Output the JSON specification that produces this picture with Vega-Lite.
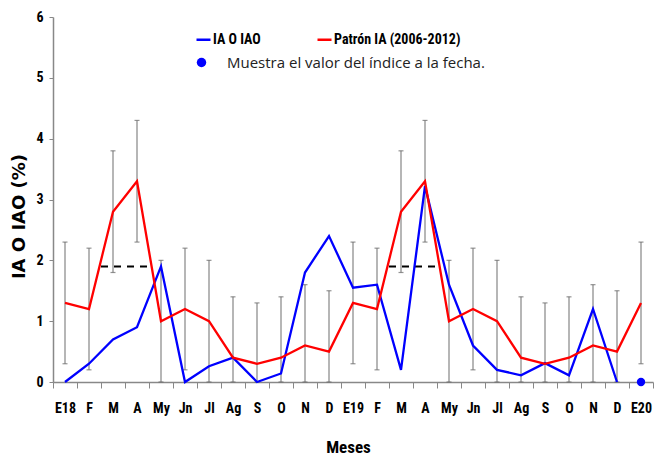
{
  "$schema": "https://vega.github.io/schema/vega-lite/v6.json",
  "autosize": {"type": "none"},
  "padding": {"left": 53, "top": 17, "right": 1, "bottom": 74},
  "width": 600,
  "height": 365,
  "background": "white",
  "config": {"view": {"stroke": null}},
  "data": {"values": [
    {"key": "E18", "ia": 0, "pat": 1.3, "lo": 0.3, "hi": 2.3},
    {"key": "F_1", "ia": 0.3, "pat": 1.2, "lo": 0.2, "hi": 2.2},
    {"key": "M_1", "ia": 0.7, "pat": 2.8, "lo": 1.8, "hi": 3.8},
    {"key": "A_1", "ia": 0.9, "pat": 3.3, "lo": 2.3, "hi": 4.3},
    {"key": "My_1", "ia": 1.9, "pat": 1.0, "lo": 0, "hi": 2.0},
    {"key": "Jn_1", "ia": 0, "pat": 1.2, "lo": 0.2, "hi": 2.2},
    {"key": "Jl_1", "ia": 0.26, "pat": 1.0, "lo": 0, "hi": 2.0},
    {"key": "Ag_1", "ia": 0.4, "pat": 0.4, "lo": 0, "hi": 1.4},
    {"key": "S_1", "ia": 0, "pat": 0.3, "lo": 0, "hi": 1.3},
    {"key": "O_1", "ia": 0.14, "pat": 0.4, "lo": 0, "hi": 1.4},
    {"key": "N_1", "ia": 1.8, "pat": 0.6, "lo": 0, "hi": 1.6},
    {"key": "D_1", "ia": 2.4, "pat": 0.5, "lo": 0, "hi": 1.5},
    {"key": "E19", "ia": 1.55, "pat": 1.3, "lo": 0.3, "hi": 2.3},
    {"key": "F_2", "ia": 1.6, "pat": 1.2, "lo": 0.2, "hi": 2.2},
    {"key": "M_2", "ia": 0.2, "pat": 2.8, "lo": 1.8, "hi": 3.8},
    {"key": "A_2", "ia": 3.22, "pat": 3.3, "lo": 2.3, "hi": 4.3},
    {"key": "My_2", "ia": 1.6, "pat": 1.0, "lo": 0, "hi": 2.0},
    {"key": "Jn_2", "ia": 0.6, "pat": 1.2, "lo": 0.2, "hi": 2.2},
    {"key": "Jl_2", "ia": 0.2, "pat": 1.0, "lo": 0, "hi": 2.0},
    {"key": "Ag_2", "ia": 0.11, "pat": 0.4, "lo": 0, "hi": 1.4},
    {"key": "S_2", "ia": 0.31, "pat": 0.3, "lo": 0, "hi": 1.3},
    {"key": "O_2", "ia": 0.11, "pat": 0.4, "lo": 0, "hi": 1.4},
    {"key": "N_2", "ia": 1.2, "pat": 0.6, "lo": 0, "hi": 1.6},
    {"key": "D_2", "ia": 0, "pat": 0.5, "lo": 0, "hi": 1.5},
    {"key": "E20", "ia": null, "pat": 1.3, "lo": 0.3, "hi": 2.3}
  ]},
  "encoding": {
    "x": {
      "field": "key", "type": "ordinal",
      "scale": {"type": "band", "paddingInner": 0, "paddingOuter": 0,
        "domain": ["E18","F_1","M_1","A_1","My_1","Jn_1","Jl_1","Ag_1","S_1","O_1","N_1","D_1","E19","F_2","M_2","A_2","My_2","Jn_2","Jl_2","Ag_2","S_2","O_2","N_2","D_2","E20"]},
      "axis": {
        "title": "Meses",
        "labelExpr": "datum.value ? split(datum.value, '_')[0] : ''",
        "labelAngle": 0,
        "labelFont": "Liberation Sans Narrow, Roboto Condensed, Roboto",
        "labelFontWeight": "bold",
        "labelFontSize": 14,
        "labelColor": "black",
        "labelPadding": 13,
        "tickBand": "extent",
        "tickSize": 6,
        "tickColor": "#888888",
        "domainColor": "#888888",
        "domainWidth": 1.5,
        "titleFont": "Liberation Sans Narrow, Roboto Condensed, Roboto",
        "titleFontWeight": "bold",
        "titleFontSize": 17,
        "titleColor": "black",
        "titlePadding": 24,
        "titleX": 295
      }
    }
  },
  "layer": [
    {
      "mark": {"type": "rule", "color": "#858585", "strokeWidth": 1.2},
      "encoding": {
        "y": {"field": "lo", "type": "quantitative",
          "scale": {"domain": [0, 6], "nice": false},
          "axis": {
            "title": "IA O IAO (%)",
            "values": [0, 1, 2, 3, 4, 5, 6],
            "format": "d",
            "grid": false,
            "labelFont": "Liberation Sans Narrow, Roboto Condensed, Roboto",
            "labelFontWeight": "bold",
            "labelFontSize": 14,
            "labelColor": "black",
            "labelPadding": 6,
            "tickSize": 4,
            "tickColor": "#888888",
            "domainColor": "#888888",
            "domainWidth": 1.5,
            "titleFont": "DejaVu Sans",
            "titleFontWeight": "bold",
            "titleFontSize": 18,
            "titleColor": "black",
            "titleAngle": 270,
            "titleBaseline": "middle",
            "titleAlign": "center",
            "titleX": -34,
            "titleY": 199
          }
        },
        "y2": {"field": "hi"}
      }
    },
    {
      "mark": {"type": "tick", "color": "#666666", "size": 5, "thickness": 1.2},
      "encoding": {"y": {"field": "hi", "type": "quantitative"}}
    },
    {
      "mark": {"type": "tick", "color": "#666666", "size": 5, "thickness": 1.2},
      "encoding": {"y": {"field": "lo", "type": "quantitative"}}
    },
    {
      "data": {"values": [
        {"d0": "M_1", "d1": "A_1", "v": 1.9},
        {"d0": "M_2", "d1": "A_2", "v": 1.9}
      ]},
      "mark": {"type": "rule", "color": "black", "strokeWidth": 2, "strokeDash": [7, 6]},
      "encoding": {
        "x": {"field": "d0", "type": "ordinal", "bandPosition": 0},
        "x2": {"field": "d1", "bandPosition": 1},
        "y": {"field": "v", "type": "quantitative"}
      }
    },
    {
      "mark": {"type": "line", "strokeWidth": 2.3},
      "encoding": {
        "y": {"field": "ia", "type": "quantitative"},
        "color": {
          "datum": "IA O IAO", "type": "nominal",
          "scale": {"domain": ["IA O IAO", "Patrón IA (2006-2012)"], "range": ["#0000ff", "#ff0000"]},
          "legend": {
            "title": null,
            "orient": "none",
            "legendX": 142,
            "legendY": 14,
            "direction": "horizontal",
            "padding": 0,
            "columnPadding": 51,
            "symbolType": "stroke",
            "symbolSize": 196,
            "symbolStrokeWidth": 2.5,
            "labelOffset": 1,
            "labelLimit": 300,
            "labelFont": "Liberation Sans Narrow, Roboto Condensed, Roboto",
            "labelFontWeight": "bold",
            "labelFontSize": 14,
            "labelColor": "black"
          }
        }
      }
    },
    {
      "mark": {"type": "line", "strokeWidth": 2.3},
      "encoding": {
        "y": {"field": "pat", "type": "quantitative"},
        "color": {"datum": "Patrón IA (2006-2012)", "type": "nominal"}
      }
    },
    {
      "data": {"values": [
        {"key": "E20", "v": 0, "nota": "Muestra el valor del índice a la fecha."}
      ]},
      "mark": {"type": "point", "filled": true, "color": "#0000ff", "opacity": 1, "size": 70},
      "encoding": {
        "y": {"field": "v", "type": "quantitative"},
        "shape": {
          "field": "nota", "type": "nominal",
          "scale": {"range": ["circle"]},
          "legend": {
            "title": null,
            "orient": "none",
            "legendX": 141,
            "legendY": 38,
            "padding": 0,
            "symbolSize": 90,
            "symbolFillColor": "#0000ff",
            "symbolStrokeColor": "#0000ff",
            "symbolOpacity": 1,
            "labelOffset": 18,
            "labelLimit": 400,
            "labelFont": "Open Sans",
            "labelFontSize": 15,
            "labelColor": "#222222"
          }
        }
      }
    }
  ]
}
